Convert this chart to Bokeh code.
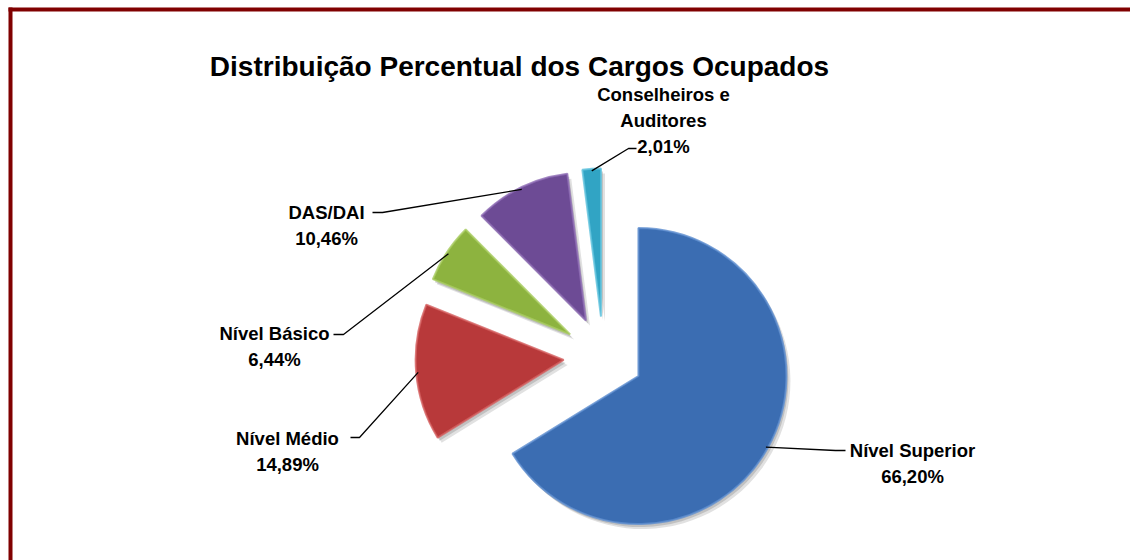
import numpy as np
from bokeh.plotting import figure
from bokeh.models import Range1d
from bokeh.embed import file_html
from bokeh.resources import INLINE
from bokeh.core.properties import value

# ---------------- data ----------------
title_text = "Distribuição Percentual dos Cargos Ocupados"
categories = ["Nível Superior", "Nível Médio", "Nível Básico", "DAS/DAI", "Conselheiros e Auditores"]
percent = [66.20, 14.89, 6.44, 10.46, 2.01]
pct_labels = ["66,20%", "14,89%", "6,44%", "10,46%", "2,01%"]
name_lines = [["Nível Superior"], ["Nível Médio"], ["Nível Básico"], ["DAS/DAI"], ["Conselheiros e", "Auditores"]]
colors = ["#3B6DB2", "#B8393A", "#8DB33F", "#6D4B95", "#31A4C4"]
edge_colors = ["#5F8ED0", "#D46060", "#A9CC62", "#8E6DB5", "#62C3DD"]

# ---------------- layout (page pixel coords) ----------------
W, H = 1130, 560
def px(x):
    return x
def py(y):
    return H - y

CX, CY = px(603), py(356)
R = 148
EXP = 40
FONT = value("Liberation Sans")

label_cx = [912, 287, 274, 326, 663]
label_first_base = [450, 438, 333, 212, 94]
line_gap = 26
elbow_pts = [(835, 450), (359, 437), (343, 334), (382, 212), (628, 148)]
end_pts = [(845, 450), (350, 437), (333, 334), (372, 212), (636, 148)]

# ---------------- geometry ----------------
vals = np.array(percent, dtype=float)
frac = vals / vals.sum()
cum = np.cumsum(frac)
a0 = 360.0 * (cum - frac)   # clockwise from 12 o'clock
a1 = 360.0 * cum
start = np.radians(90.0 - a1)
end = np.radians(90.0 - a0)
mid = (start + end) / 2.0
cx = CX + EXP * np.cos(mid)
cy = CY + EXP * np.sin(mid)

p = figure(width=W, height=H, output_backend="svg", toolbar_location=None,
           x_range=Range1d(0, W), y_range=Range1d(0, H), min_border=0)
p.axis.visible = False
p.grid.visible = False
p.outline_line_color = None
p.background_fill_color = "white"
p.border_fill_color = "white"

# border (top and left visible, right/bottom beyond the window)
p.quad(left=[8, 8], right=[W, 12], bottom=[py(11), 0], top=[py(7), py(7)],
       fill_color="#800000", line_color=None)

# shadows
for off, alpha in [((2, -3), 0.30), ((4, -5), 0.22)]:
    p.wedge(x=cx + off[0], y=cy + off[1], radius=R, start_angle=start, end_angle=end,
            fill_color="#777777", fill_alpha=alpha, line_color=None)

# slices
p.wedge(x=cx, y=cy, radius=R, start_angle=start, end_angle=end,
        fill_color=colors, line_color=edge_colors, line_width=2, line_alpha=0.8)

# leader lines
xs, ys = [], []
for i in range(len(percent)):
    sx = cx[i] + (R - 2) * np.cos(mid[i])
    sy = cy[i] + (R - 2) * np.sin(mid[i])
    xs.append([sx, px(elbow_pts[i][0]), px(end_pts[i][0])])
    ys.append([sy, py(elbow_pts[i][1]), py(end_pts[i][1])])
p.multi_line(xs=xs, ys=ys, line_color="black", line_width=1.3)

# labels
tx, ty, tt = [], [], []
for i in range(len(percent)):
    lines = name_lines[i] + [pct_labels[i]]
    for k, t in enumerate(lines):
        tx.append(px(label_cx[i]))
        ty.append(py(label_first_base[i] + k * line_gap))
        tt.append(t)
p.text(x=tx, y=ty, text=tt, text_font=FONT, text_font_style="bold", text_font_size="18.5px",
       text_align="center", text_baseline="alphabetic", text_color="black")

# title
p.text(x=[px(519)], y=[py(66)], text=[title_text], text_font=FONT, text_font_style="bold",
       text_font_size="28px", text_align="center", text_baseline="alphabetic", text_color="black")

open("out.html", "w").write(file_html(p, INLINE))
